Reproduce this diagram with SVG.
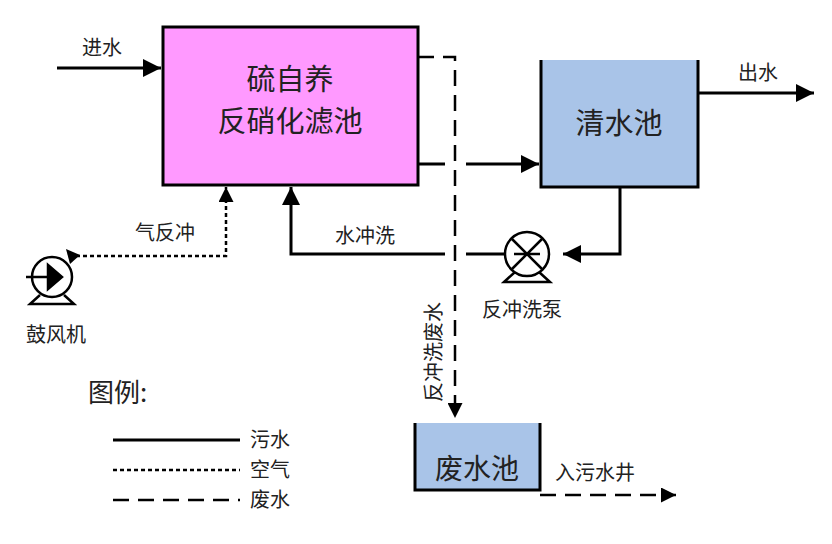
<svg xmlns="http://www.w3.org/2000/svg" width="832" height="544" viewBox="0 0 832 544">
<style>
text{font-family:"Noto Sans CJK SC","Liberation Sans",sans-serif;fill:#222}
.s{fill:none;stroke:#000;stroke-width:3}
.a{fill:none;stroke:#000;stroke-width:2.5;stroke-dasharray:4 3}
.w{fill:none;stroke:#000;stroke-width:2.5;stroke-dasharray:16 9}
.t{fill:#A9C4E8;stroke:none}
</style>
<defs>
<marker id="ar" viewBox="0 0 10 10" refX="10" refY="5" markerWidth="6" markerHeight="6" orient="auto" markerUnits="strokeWidth"><path d="M0,0L10,5L0,10z" fill="#000"/></marker>
</defs>
<rect width="832" height="544" fill="#fff"/>
<g id="filter">
<rect x="163" y="27" width="255" height="158" fill="#FF99FF" stroke="#000" stroke-width="3"/>
<text x="290" y="90" font-size="29" text-anchor="middle">硫自养</text>
<text x="290" y="132" font-size="29" text-anchor="middle">反硝化滤池</text>
</g>
<g id="clear">
<rect class="t" x="541" y="60" width="157" height="127"/>
<path class="s" d="M541,60V187H698V60"/>
<text x="619" y="134" font-size="29" text-anchor="middle">清水池</text>
</g>
<g id="waste">
<rect class="t" x="415" y="423" width="125" height="67"/>
<path class="s" d="M415,423V490H540V423"/>
<text x="477" y="479" font-size="28" text-anchor="middle">废水池</text>
</g>
<g id="blower" fill="none" stroke="#000" stroke-width="2.5">
<circle cx="52" cy="277" r="20"/>
<path d="M26,277H52"/>
<path d="M48,265L62,277L48,289z" fill="#000"/>
<path d="M40,295L30,304H74L64,295"/>
</g>
<g id="pump" fill="none" stroke="#000" stroke-width="2.5">
<circle cx="527" cy="254" r="22"/>
<path d="M512,239L542,269M542,239L512,269M514,254H540"/>
<path d="M515,272L504,282H550L539,272"/>
</g>
<g id="connectors">
<path class="s" d="M57,68H161" marker-end="url(#ar)"/>
<path class="w" d="M418,57H455V418" marker-end="url(#ar)"/>
<path class="s" d="M418,164H445M466,164H539" marker-end="url(#ar)"/>
<path class="s" d="M698,93H814" marker-end="url(#ar)"/>
<path class="s" d="M620,187V254H563" marker-end="url(#ar)"/>
<path class="s" d="M505,254H466M445,254H291V187" marker-end="url(#ar)"/>
<path class="a" d="M76,256H226V187" marker-end="url(#ar)"/>
<path d="M66,249L80,255L70,264z" fill="#000"/>
<path class="w" d="M540,495H676" marker-end="url(#ar)"/>
<path class="s" d="M113,440H240"/>
<path class="a" d="M113,470H240"/>
<path class="w" d="M113,500H240"/>
</g>
<g font-size="20">
<text x="82" y="55">进水</text>
<text x="738" y="80">出水</text>
<text x="135" y="240">气反冲</text>
<text x="335" y="243">水冲洗</text>
<text x="26" y="342">鼓风机</text>
<text x="482" y="317">反冲洗泵</text>
<text x="555" y="480">入污水井</text>
<text x="250" y="447">污水</text>
<text x="250" y="477">空气</text>
<text x="250" y="507">废水</text>
<text transform="translate(441,402) rotate(-90)">反冲洗废水</text>
<text x="88" y="402" font-size="26">图例:</text>
</g>
</svg>
